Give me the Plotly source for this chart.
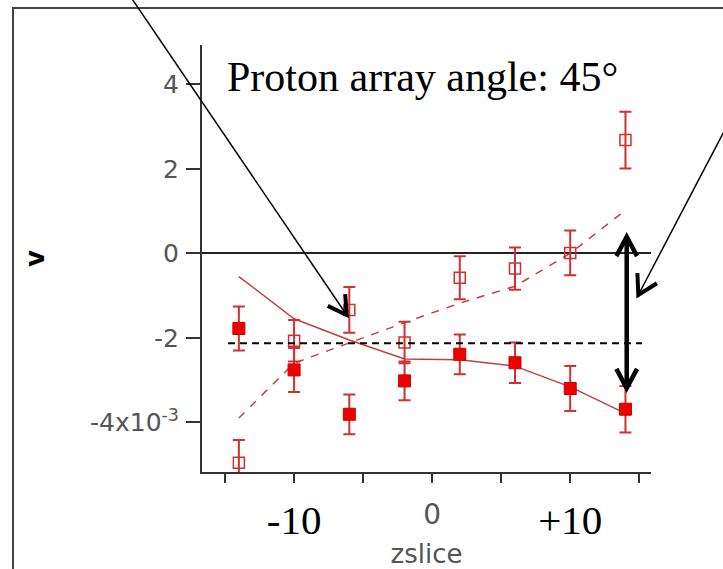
import math
import plotly.graph_objects as go

# ---- data (v in units of 1e-3) ----
zslice = [-14, -10, -6, -2, 2, 6, 10, 14]
v_filled = [-1.78, -2.76, -3.81, -3.02, -2.39, -2.59, -3.20, -3.69]
err_filled = [0.52, 0.52, 0.47, 0.46, 0.47, 0.48, 0.53, 0.55]
v_open = [-4.96, -2.07, -1.34, -2.11, -0.58, -0.36, 0.01, 2.68]
err_open = [0.54, 0.49, 0.54, 0.49, 0.51, 0.50, 0.53, 0.67]
fit_filled = [-0.55, -1.55, -2.05, -2.50, -2.52, -2.67, -3.16, -3.79]
fit_open = [-3.90, -2.60, -2.12, -1.64, -1.18, -0.78, 0.00, 1.02]
avg_level = -2.13

y_tickvals = [-4, -2, 0, 2, 4]
y_ticktext = ["-4x10<sup>-3</sup>", "-2", "0", "2", "4"]
x_tickvals = [-10, 0, 10]
x_ticktext = ["-10",
              "<span style='font-family:DejaVu Sans;font-size:28px;color:#555555;baseline-shift:10px'>0</span>",
              "+10"]

# ---- layout geometry ----
W, H = 723, 569
L, R, T, B = 202, 72, 45, 97
PW, PH = W - L - R, H - T - B


def px(x):
    return (x - L) / PW


def py(y):
    return (H - B - y) / PH


RED = "#ee0000"
ERR = "#d03030"
FIT = "#c04040"
GRAY = "#555555"
AX = "#333333"

fig = go.Figure()

fig.add_trace(go.Scatter(x=zslice, y=fit_filled, mode="lines",
                         line=dict(color=FIT, width=1.5), showlegend=False))
fig.add_trace(go.Scatter(x=zslice, y=fit_open, mode="lines",
                         line=dict(color=FIT, width=1.5, dash="8px,8px"), showlegend=False))
fig.add_trace(go.Scatter(x=zslice, y=v_open, mode="markers",
                         marker=dict(symbol="square-open", size=11, color=ERR,
                                     line=dict(color=ERR, width=1.5)),
                         error_y=dict(type="data", array=err_open, color=ERR,
                                      thickness=2, width=6),
                         showlegend=False))
fig.add_trace(go.Scatter(x=zslice, y=v_filled, mode="markers",
                         marker=dict(symbol="square", size=12, color=RED,
                                     line=dict(color="#cc0000", width=1)),
                         error_y=dict(type="data", array=err_filled, color=ERR,
                                      thickness=2, width=6),
                         showlegend=False))

shapes = []
# outer frame
shapes.append(dict(type="rect", xref="paper", yref="paper",
                   x0=px(13), x1=px(745), y0=py(590), y1=py(8),
                   line=dict(color="#444444", width=2), layer="below"))
# dashed reference level
shapes.append(dict(type="line", xref="paper", yref="y",
                   x0=px(228), x1=px(642), y0=avg_level, y1=avg_level,
                   line=dict(color="black", width=2, dash="7px,5px")))


def seg(x0, y0, x1, y1, w):
    return dict(type="line", xref="paper", yref="paper",
                x0=px(x0), y0=py(y0), x1=px(x1), y1=py(y1),
                line=dict(color="black", width=w))


def head(tipx, tipy, fromx, fromy, length, ang, w):
    dx, dy = fromx - tipx, fromy - tipy
    n = math.hypot(dx, dy)
    ux, uy = dx / n, dy / n
    out = []
    for s in (1, -1):
        a = math.radians(ang) * s
        rx = ux * math.cos(a) - uy * math.sin(a)
        ry = ux * math.sin(a) + uy * math.cos(a)
        out.append((tipx + rx * length, tipy + ry * length))
    p = "M {} {} L {} {} L {} {}".format(px(out[0][0]), py(out[0][1]),
                                          px(tipx), py(tipy),
                                          px(out[1][0]), py(out[1][1]))
    return dict(type="path", xref="paper", yref="paper", path=p,
                line=dict(color="black", width=w))


# arrow 1 (upper left)
shapes.append(seg(126, -10, 346.7, 315, 1.5))
shapes.append(head(346.7, 315, 126, -10, 21, 30, 4))
# arrow 2 (upper right)
shapes.append(seg(740, 101, 638.3, 295, 1.5))
shapes.append(head(638.3, 295, 740, 101, 22, 30, 4))
# double arrow
shapes.append(seg(626.7, 238, 626.7, 387, 4.5))
shapes.append(head(626.7, 236.7, 626.7, 300, 22, 28, 4.5))
shapes.append(head(626.7, 388.3, 626.7, 300, 22, 28, 4.5))

fig.update_layout(
    width=W, height=H,
    margin=dict(l=L, r=R, t=T, b=B, pad=0, autoexpand=False),
    paper_bgcolor="white", plot_bgcolor="white",
    showlegend=False,
    title=dict(text="Proton array angle: 45°", xref="paper", x=px(227), xanchor="left",
               yref="container", y=1 - 76 / H, yanchor="middle",
               font=dict(family="Liberation Serif", size=42, color="black")),
    xaxis=dict(range=[-16.67, 15.85], showgrid=False, zeroline=False, automargin=False,
               showline=True, linecolor=AX, linewidth=2,
               ticks="outside", ticklen=9, tickwidth=2, tickcolor=AX,
               tickvals=x_tickvals, ticktext=x_ticktext,
               minor=dict(tick0=-15, dtick=5, ticks="outside", ticklen=9,
                          tickwidth=2, tickcolor=AX, showgrid=False),
               tickfont=dict(family="Liberation Serif", size=41, color="black"),
               ticklabelstandoff=2,
               title=dict(text="zslice", standoff=14,
                          font=dict(family="DejaVu Sans", size=26, color=GRAY))),
    yaxis=dict(range=[-5.176, 4.93], showgrid=False, automargin=False,
               zeroline=True, zerolinecolor="#222222", zerolinewidth=2,
               showline=True, linecolor=AX, linewidth=2,
               ticks="outside", ticklen=14, tickwidth=2, tickcolor=AX,
               tickvals=y_tickvals, ticktext=y_ticktext,
               tickfont=dict(family="DejaVu Sans", size=25, color=GRAY),
               ticklabelstandoff=2,
               title=dict(text="<b>v</b>", standoff=38,
                          font=dict(family="DejaVu Sans", size=26, color="black"))),
    shapes=shapes,
)

fig.write_html("out.html")
